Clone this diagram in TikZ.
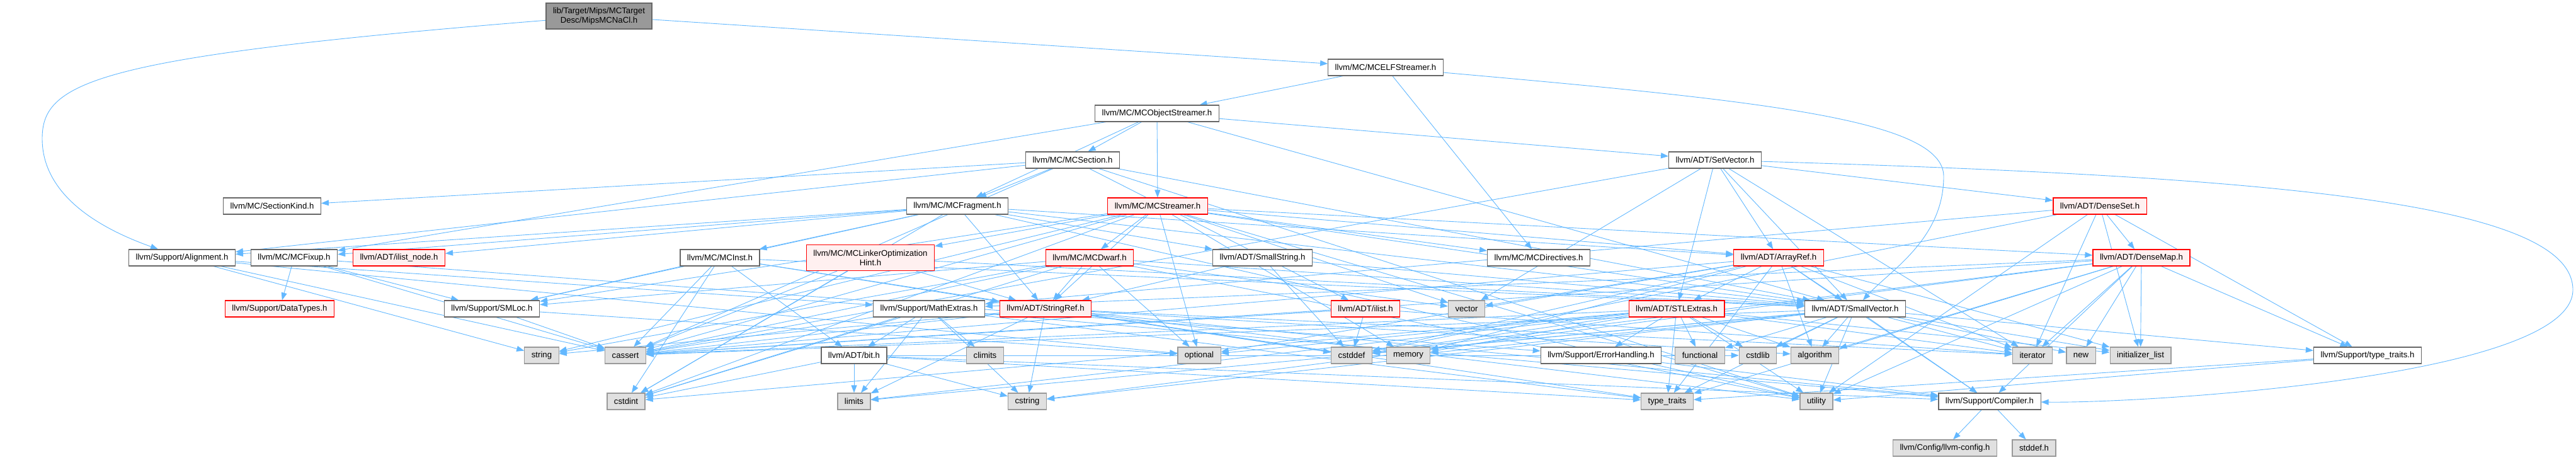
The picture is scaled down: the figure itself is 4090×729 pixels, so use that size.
\documentclass[tikz,border=0pt]{standalone}
\usepackage{fontspec}
\setmainfont{Liberation Sans}
\usetikzlibrary{arrows.meta}
\definecolor{edgeblue}{HTML}{63B8FF}
\definecolor{boxgray}{HTML}{666666}
\definecolor{sysgray}{HTML}{999999}
\definecolor{sysfill}{HTML}{E0E0E0}
\definecolor{cutred}{HTML}{FF0000}
\definecolor{cutfill}{HTML}{FFF0F0}
\pgfdeclarelayer{edges}
\pgfsetlayers{edges,main}

\begin{document}
\begin{tikzpicture}[x=1pt, y=-1pt, >={Triangle[length=12pt, width=9pt]},
  hdr/.style={draw=boxgray, fill=white, line width=1.2pt, inner xsep=11pt, inner ysep=0pt,
    minimum height=26pt, font=\fontsize{13.2}{15}\selectfont},
  syshdr/.style={hdr, draw=sysgray, fill=sysfill},
  cuthdr/.style={hdr, draw=cutred, fill=cutfill},
  roothdr/.style={hdr, fill=sysgray, minimum height=41pt, align=center},
  dep/.style={->, draw=edgeblue, line width=0.9pt}]
  \useasboundingbox (0,0) rectangle (4090,729);

  % upper levels
  \node[roothdr] (nacl) at (951,25.5) {lib/Target/Mips/MCTarget\\Desc/MipsMCNaCl.h};
  \node[hdr] (elfstr) at (2200,107) {llvm/MC/MCELFStreamer.h};
  \node[hdr] (objstr) at (1837,180) {llvm/MC/MCObjectStreamer.h};
  \node[hdr] (section) at (1703,254) {llvm/MC/MCSection.h};
  \node[hdr] (setvec) at (2723,254) {llvm/ADT/SetVector.h};
  \node[hdr] (seckind) at (432,327) {llvm/MC/SectionKind.h};
  \node[hdr] (fragment) at (1520,327) {llvm/MC/MCFragment.h};
  \node[cuthdr] (streamer) at (1838,327) {llvm/MC/MCStreamer.h};
  \node[cuthdr] (denseset) at (3334,327) {llvm/ADT/DenseSet.h};

  % middle levels
  \node[hdr] (align) at (289,409) {llvm/Support/Alignment.h};
  \node[hdr] (fixup) at (467,409) {llvm/MC/MCFixup.h};
  \node[cuthdr] (ilistnode) at (633.5,409) {llvm/ADT/ilist\_node.h};
  \node[hdr] (inst) at (1143,409) {llvm/MC/MCInst.h};
  \node[cuthdr, align=center, minimum height=41pt] (lohint) at (1382,409) {llvm/MC/MCLinkerOptimization\\Hint.h};
  \node[cuthdr] (dwarf) at (1730,409) {llvm/MC/MCDwarf.h};
  \node[hdr] (smallstr) at (2004.5,409) {llvm/ADT/SmallString.h};
  \node[hdr] (directives) at (2443,409) {llvm/MC/MCDirectives.h};
  \node[cuthdr] (arrayref) at (2824,409) {llvm/ADT/ArrayRef.h};
  \node[cuthdr] (densemap) at (3400,409) {llvm/ADT/DenseMap.h};

  \node[cuthdr] (datatypes) at (444,490) {llvm/Support/DataTypes.h};
  \node[hdr] (smloc) at (781,490) {llvm/Support/SMLoc.h};
  \node[hdr] (mathext) at (1475,490) {llvm/Support/MathExtras.h};
  \node[cuthdr] (stringref) at (1660,490) {llvm/ADT/StringRef.h};
  \node[cuthdr] (ilist) at (2168,490) {llvm/ADT/ilist.h};
  \node[syshdr] (vector) at (2328.5,490) {vector};
  \node[cuthdr] (stlext) at (2662,490) {llvm/ADT/STLExtras.h};
  \node[hdr] (smallvec) at (2945.5,490) {llvm/ADT/SmallVector.h};

  % lower levels
  \node[syshdr] (string) at (860,564) {string};
  \node[syshdr] (cassert) at (993,564) {cassert};
  \node[hdr] (bit) at (1356,564) {llvm/ADT/bit.h};
  \node[syshdr] (climits) at (1564,564) {climits};
  \node[syshdr] (optional) at (1904,564) {optional};
  \node[syshdr] (cstddef) at (2146,564) {cstddef};
  \node[syshdr] (memory) at (2236,564) {memory};
  \node[hdr] (errhand) at (2542,564) {llvm/Support/ErrorHandling.h};
  \node[syshdr] (functional) at (2699,564) {functional};
  \node[syshdr] (cstdlib) at (2791,564) {cstdlib};
  \node[syshdr] (algorithm) at (2881.5,564) {algorithm};
  \node[syshdr] (iterator) at (3227,564) {iterator};
  \node[syshdr] (cnew) at (3304,564) {new};
  \node[syshdr] (initlist) at (3398.5,564) {initializer\_list};
  \node[hdr] (typetr) at (3759,564) {llvm/Support/type\_traits.h};

  \node[syshdr] (cstdint) at (994,637) {cstdint};
  \node[syshdr] (limits) at (1356,637) {limits};
  \node[syshdr] (cstring) at (1631,637) {cstring};
  \node[syshdr] (typetraits) at (2647,637) {type\_traits};
  \node[syshdr] (utility) at (2884,637) {utility};
  \node[hdr] (compiler) at (3159,637) {llvm/Support/Compiler.h};

  \node[syshdr] (config) at (3088,711) {llvm/Config/llvm-config.h};
  \node[syshdr] (stddef) at (3229.5,711) {stddef.h};

  \begin{pgfonlayer}{edges}
  % the long curved ones
  \draw[dep] (nacl) -- (elfstr);
  \draw[dep] (nacl) .. controls (150,90) and (67,130) .. (67,220) .. controls (67,320) and (180,370) .. (align);
  \draw[dep] (elfstr) .. controls (2800,160) and (3086,190) .. (3086,280) .. controls (3086,380) and (3000,430) .. (smallvec);
  \draw[dep] (setvec) .. controls (3600,280) and (4085,320) .. (4085,460) .. controls (4085,600) and (3400,640) .. (compiler);

  % includes, one source at a time
  \foreach \dst in {objstr, directives} \draw[dep] (elfstr) -- (\dst);
  \foreach \dst in {setvec, smallvec, fixup, fragment, section, streamer} \draw[dep] (objstr) -- (\dst);
  \foreach \dst in {smallvec, ilist, fragment, seckind, align, cassert, utility} \draw[dep] (section) -- (\dst);
  \foreach \dst in {arrayref, denseset, stlext, smallvec, cassert, iterator, vector} \draw[dep] (setvec) -- (\dst);
  \foreach \dst in {arrayref, smallstr, smallvec, stringref, ilistnode, fixup, inst, align, smloc, cstdint, utility}
    \draw[dep] (fragment) -- (\dst);
  \foreach \dst in {arrayref, densemap, smallvec, stringref, directives, dwarf, lohint, smloc, cassert, cstdint, memory, optional, string, utility, vector}
    \draw[dep] (streamer) -- (\dst);
  \foreach \dst in {densemap, mathext, typetr, cstddef, initlist, iterator, utility} \draw[dep] (denseset) -- (\dst);
  \foreach \dst in {mathext, cassert, optional, string} \draw[dep] (align) -- (\dst);
  \foreach \dst in {datatypes, errhand, smloc, cassert} \draw[dep] (fixup) -- (\dst);
  \foreach \dst in {smallvec, stringref, bit, smloc, cassert, cstddef, cstdint} \draw[dep] (inst) -- (\dst);
  \foreach \dst in {smallvec, stringref, cassert, cstdint} \draw[dep] (lohint) -- (\dst);
  \foreach \dst in {smallvec, stringref, smloc, cassert, cstdint, optional, string, utility, vector} \draw[dep] (dwarf) -- (\dst);
  \foreach \dst in {smallvec, stringref, cstddef} \draw[dep] (smallstr) -- (\dst);
  \foreach \dst in {smallvec, stlext, compiler, algorithm, cassert, cstddef, initlist, iterator, memory, optional, typetraits, vector}
    \draw[dep] (arrayref) -- (\dst);
  \foreach \dst in {compiler, mathext, typetr, algorithm, cassert, cstddef, cstring, initlist, iterator, cnew, typetraits, utility}
    \draw[dep] (densemap) -- (\dst);
  \foreach \dst in {cassert, optional} \draw[dep] (smloc) -- (\dst);
  \foreach \dst in {bit, compiler, cassert, climits, cstdint, cstring, limits, typetraits} \draw[dep] (mathext) -- (\dst);
  \foreach \dst in {compiler, algorithm, cassert, cstddef, cstring, iterator, limits, string, typetraits, utility}
    \draw[dep] (stringref) -- (\dst);
  \foreach \dst in {cstddef, cassert, iterator} \draw[dep] (ilist) -- (\dst);
  \foreach \dst in {errhand, algorithm, cassert, cstddef, cstdint, cstdlib, functional, initlist, iterator, limits, memory, optional, typetraits, utility}
    \draw[dep] (stlext) -- (\dst);
  \foreach \dst in {compiler, typetr, algorithm, cassert, cstddef, cstdlib, cstring, functional, initlist, iterator, limits, memory, cnew, typetraits, utility}
    \draw[dep] (smallvec) -- (\dst);
  \foreach \dst in {compiler, cstdint, limits, typetraits, cstring, cstdlib} \draw[dep] (bit) -- (\dst);
  \draw[dep] (errhand) -- (compiler);
  \foreach \dst in {typetraits, utility} \draw[dep] (typetr) -- (\dst);
  \foreach \dst in {config, stddef} \draw[dep] (compiler) -- (\dst);
  \end{pgfonlayer}
\end{tikzpicture}
\end{document}
